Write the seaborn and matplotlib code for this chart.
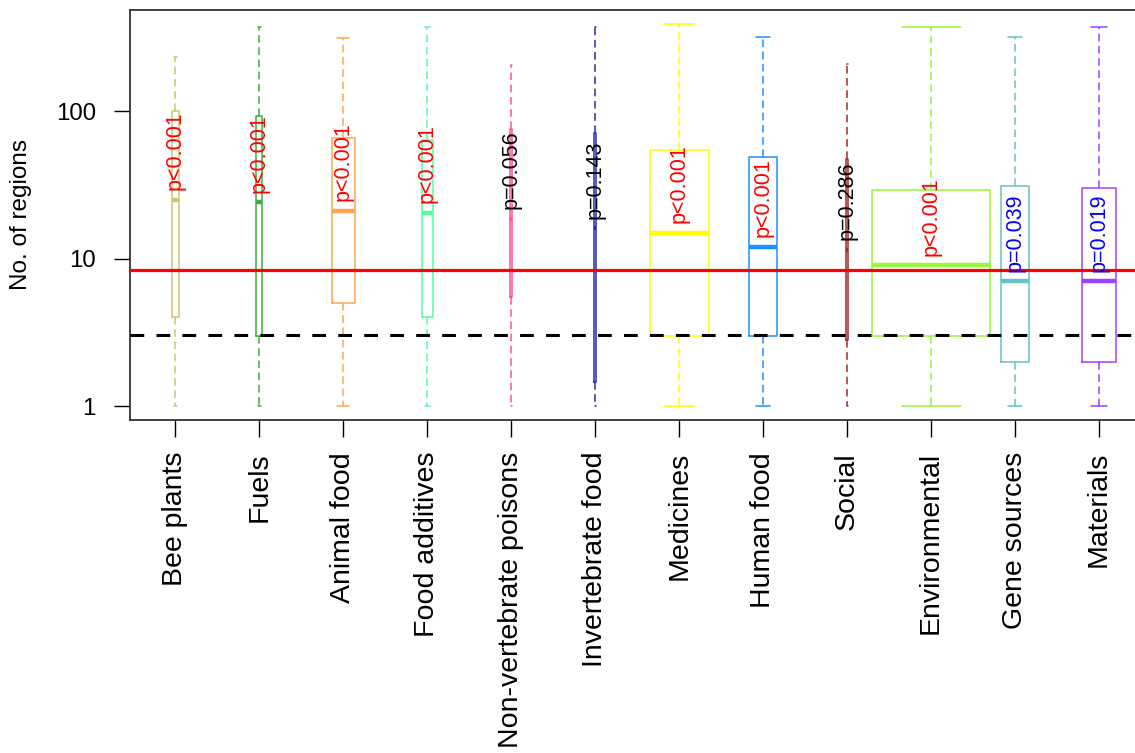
import numpy as np
import pandas as pd
import matplotlib
matplotlib.use("Agg")
import matplotlib.pyplot as plt
import seaborn as sns

# ---- data -------------------------------------------------------------
categories = ["Bee plants", "Fuels", "Animal food", "Food additives",
              "Non-vertebrate poisons", "Invertebrate food", "Medicines",
              "Human food", "Social", "Environmental", "Gene sources",
              "Materials"]

# five-number summaries of the number of regions per use category
mins    = [1, 1, 1, 1, 1, 1, 1, 1, 1, 1, 1, 1]
q1s     = [4, 3, 5, 4, 5.5, 1.45, 3, 3, 2.8, 3, 2, 2]
medians = [25, 24, 21, 20.5, 18.5, 16, 15, 12, 11.5, 9, 7, 7]
q3s     = [100, 92, 66, 64, 75, 71, 54, 49, 47, 29, 31, 30]
maxs    = [233, 369, 314, 369, 205, 369, 389, 316, 208, 369, 316, 369]

# relative box widths (proportional to group size)
box_widths = [0.083, 0.068, 0.277, 0.131, 0.022, 0.03, 0.70, 0.333,
              0.028, 1.405, 0.33, 0.40]

p_labels = ["p<0.001", "p<0.001", "p<0.001", "p<0.001", "p=0.056",
            "p=0.143", "p<0.001", "p<0.001", "p=0.286", "p<0.001",
            "p=0.039", "p=0.019"]
p_colors = ["red", "red", "red", "red", "black", "black", "red", "red",
            "black", "red", "blue", "blue"]

box_colors = ["#CDC673", "#3DAE3D", "#FFA54F", "#54FF9F", "#FF4FA0",
              "#2A2AA8", "#FFFF00", "#1E90FF", "#A52A2A", "#98F53B",
              "#66C2C2", "#A040FF"]

overall_mean = 8.3
overall_median = 3.05

# ---- long table: the five summary values reproduce the quartiles exactly
rows = []
for cat, a, b, c, d, e in zip(categories, mins, q1s, medians, q3s, maxs):
    for v in (a, b, c, d, e):
        rows.append({"use": cat, "regions": v})
df = pd.DataFrame(rows)

# ---- figure -----------------------------------------------------------
sns.set_style("white")
plt.rcParams["font.family"] = ["Liberation Sans", "DejaVu Sans"]
plt.rcParams["text.color"] = "black"
plt.rcParams["axes.labelcolor"] = "black"
plt.rcParams["xtick.color"] = "black"
plt.rcParams["ytick.color"] = "black"

W, H = 1135, 753
fig = plt.figure(figsize=(W / 100, H / 100), dpi=100)
ax = fig.add_axes([130 / W, 1 - 420 / H, 1011 / W, 410 / H])
ax.set_yscale("log")

for cat, w, col in zip(categories, box_widths, box_colors):
    sns.boxplot(
        data=df[df["use"] == cat], x="use", y="regions", order=categories,
        width=w, color=col, fill=False, whis=(0, 100), log_scale=True,
        linewidth=1.1, ax=ax,
        whiskerprops={"linestyle": (0, (5, 3)), "linewidth": 1.1},
        capprops={"linewidth": 1.1},
        medianprops={"linewidth": 3.2},
        showfliers=False,
    )

# reference lines
ax.axhline(overall_mean, color="red", lw=2.3, zorder=5)
ax.axhline(overall_median, color="black", lw=2.2, dashes=(4.5, 4), zorder=5)

# significance labels above each median
for i, (lab, col, med) in enumerate(zip(p_labels, p_colors, medians)):
    ax.annotate(lab, xy=(i, med), xytext=(0, 7), textcoords="offset points",
                rotation=90, ha="center", va="bottom", color=col,
                fontsize=15.5, zorder=6)

ax.set_xlim(-0.54, 11.5)
ax.set_ylim(0.804, 484)
ax.set_yticks([1, 10, 100])
ax.set_yticklabels(["1", "10", "100"])
ax.yaxis.set_minor_locator(matplotlib.ticker.NullLocator())
ax.set_xticks(range(len(categories)))
ax.set_xticklabels(categories, rotation=90, ha="center", va="top",
                   fontsize=20.5, color="black")
ax.set_xlabel("")
ax.set_ylabel("No. of regions", fontsize=17.5, color="black")
ax.yaxis.set_label_coords(-0.097, 0.5)

ax.tick_params(axis="y", which="major", length=11.5, width=1, pad=13,
               labelsize=17.3, color="black", labelcolor="black", left=True)
ax.tick_params(axis="x", which="major", length=12, width=1, pad=11,
               color="black", labelcolor="black", bottom=True)

for sp in ax.spines.values():
    sp.set_visible(True)
    sp.set_color("#333333")
    sp.set_linewidth(1.3)

fig.savefig("out.png", dpi=100)
